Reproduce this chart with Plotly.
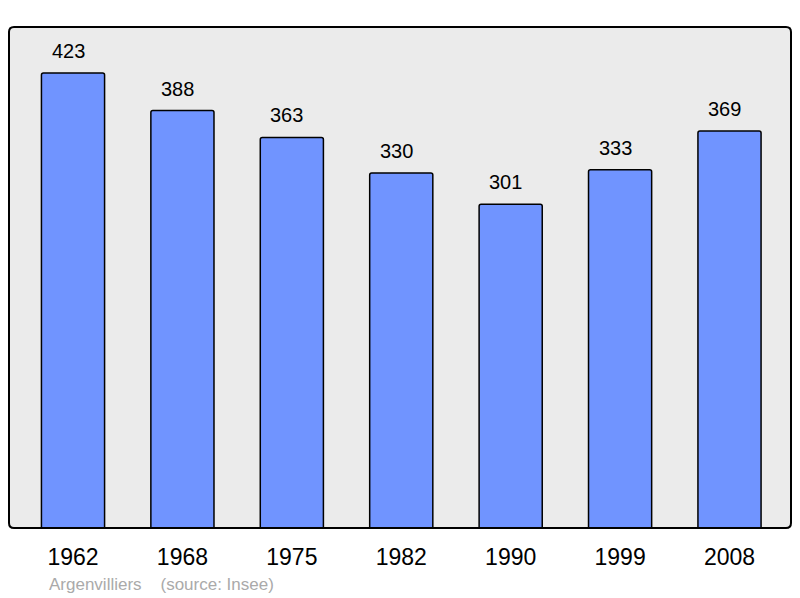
import plotly.graph_objects as go

years = ["1962", "1968", "1975", "1982", "1990", "1999", "2008"]
population = [423, 388, 363, 330, 301, 333, 369]
source_text = "Argenvilliers    (source: Insee)"

xs = list(range(len(years)))
FONT = "Liberation Sans, Arial, sans-serif"

fig = go.Figure()
fig.add_trace(go.Bar(
    x=xs, y=population, width=0.577,
    marker=dict(color="#7094ff", line=dict(color="#000000", width=1.5), cornerradius=2),
    hoverinfo="skip",
))

for x, v in zip(xs, population):
    fig.add_annotation(x=x, y=v, text=str(v), showarrow=False, yanchor="bottom",
                       yshift=9, xshift=-5, font=dict(size=20, color="#000000", family=FONT))

fig.add_annotation(x=(49 - 9) / 782, y=(528 - 584) / 501, xref="paper", yref="paper",
                   xanchor="left", yanchor="middle", text=source_text, showarrow=False,
                   xshift=-2, font=dict(size=17, color="#aaaaaa", family=FONT))

rx, ry = 5 / 782, 5 / 501
border_path = (f"M {rx},0 L {1-rx},0 Q 1,0 1,{ry} L 1,{1-ry} Q 1,1 {1-rx},1 "
               f"L {rx},1 Q 0,1 0,{1-ry} L 0,{ry} Q 0,0 {rx},0 Z")

fig.update_layout(
    width=800, height=598,
    margin=dict(l=9, r=9, t=27, b=70),
    plot_bgcolor="#ebebeb", paper_bgcolor="#ffffff",
    showlegend=False,
    xaxis=dict(range=[-0.585, 6.562], tickmode="array", tickvals=xs, ticktext=years,
               ticks="outside", ticklen=8, tickcolor="rgba(0,0,0,0)", showgrid=False, zeroline=False,
               tickfont=dict(size=23, color="#000000", family=FONT), fixedrange=True),
    yaxis=dict(range=[0, 465.7], visible=False, showgrid=False, zeroline=False, fixedrange=True),
    shapes=[dict(type="path", xref="paper", yref="paper", path=border_path,
                 line=dict(color="#000000", width=2), layer="above")],
)

fig.write_html("out.html", config={"displayModeBar": False},
               post_script="document.body.style.margin='0';document.body.style.overflow='hidden';")
